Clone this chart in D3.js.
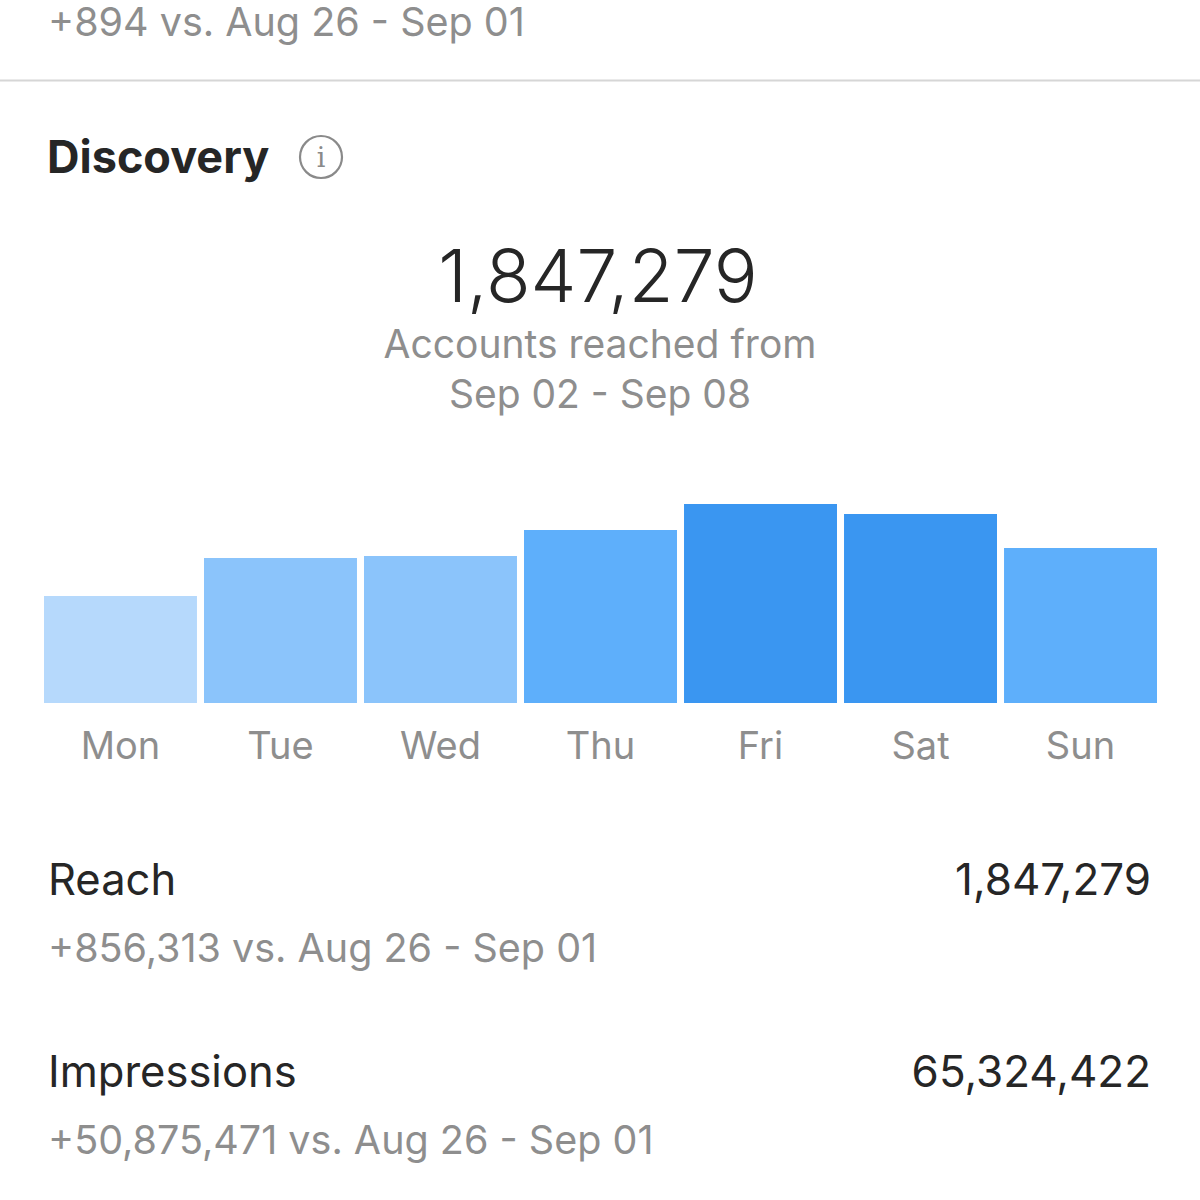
<!DOCTYPE html>
<html>
<head>
<meta charset="utf-8">
<script src="https://cdn.jsdelivr.net/npm/d3@7"></script>
<style>
  html, body { margin: 0; padding: 0; background: #ffffff; }
  svg { display: block; }
  text { font-family: Inter, "Noto Sans", "Liberation Sans", sans-serif; }
</style>
</head>
<body>
<script>
// ---- data ----
const days = ["Mon", "Tue", "Wed", "Thu", "Fri", "Sat", "Sun"];
const dailyReach = [107, 145, 147, 173, 199, 189, 155];   // relative daily reach
const shadeLevel = [0, 1, 1, 2, 3, 3, 2];                  // colour step of each bar
const shades = ["#b6d9fc", "#8bc4fb", "#5eaffb", "#3a96f1"];
const topDelta = "+894 vs. Aug 26 - Sep 01";
const sectionTitle = "Discovery";
const headline = "1,847,279";
const subtitleLines = ["Accounts reached from", "Sep 02 - Sep 08"];
const metricNames = ["Reach", "Impressions"];
const metricValues = ["1,847,279", "65,324,422"];
const metricDeltas = ["+856,313 vs. Aug 26 - Sep 01", "+50,875,471 vs. Aug 26 - Sep 01"];

const W = 1200, H = 1200;
const svg = d3.select("body").append("svg").attr("width", W).attr("height", H);
const gray = "#8e8e8e", dark = "#262626";

// top row remnant
svg.append("text").attr("x", 48).attr("y", 36).attr("font-size", 39.5)
  .attr("fill", gray).text(topDelta);
svg.append("line").attr("x1", 0).attr("x2", W).attr("y1", 80.5).attr("y2", 80.5)
  .attr("stroke", "#d6d6d6").attr("stroke-width", 2);

// section title
svg.append("text").attr("x", 47).attr("y", 173).attr("font-size", 45)
  .attr("font-weight", 700).attr("fill", dark).text(sectionTitle);
const info = svg.append("g").attr("transform", "translate(321,157)");
info.append("circle").attr("r", 21).attr("fill", "none").attr("stroke", "#8a8a8a").attr("stroke-width", 2.2);
info.append("text").attr("y", 10).attr("text-anchor", "middle")
  .style("font-family", "'DejaVu Serif', 'Liberation Serif', serif").style("font-size", "27px")
  .attr("fill", "#8a8a8a").text("i");

// headline
svg.append("text").attr("x", 598).attr("y", 302).attr("text-anchor", "middle")
  .attr("font-size", 73).attr("font-weight", 300).attr("fill", dark).text(headline);
svg.selectAll("text.sub").data(subtitleLines).join("text").attr("class", "sub")
  .attr("x", 600).attr("y", (d, i) => 358 + i * 50).attr("text-anchor", "middle")
  .attr("font-size", 39).attr("fill", gray).text(d => d);

// bars
const x = d3.scaleBand().domain(days).range([44, 1157]).paddingInner(0.044).paddingOuter(0);
const y = d3.scaleLinear().domain([0, d3.max(dailyReach)]).range([703, 504]);

svg.append("g").selectAll("rect").data(days).join("rect")
  .attr("x", d => x(d)).attr("width", x.bandwidth())
  .attr("y", (d, i) => y(dailyReach[i]))
  .attr("height", (d, i) => y(0) - y(dailyReach[i]))
  .attr("fill", (d, i) => shades[shadeLevel[i]]);

const axis = d3.axisBottom(x).tickSize(0).tickPadding(0);
const ag = svg.append("g").attr("transform", "translate(0,703)").call(axis);
ag.select(".domain").remove();
ag.selectAll("text").attr("dy", null).attr("y", 56).attr("font-size", 38)
  .attr("fill", gray).attr("font-family", null);

// metrics
metricNames.forEach((name, i) => {
  const base = 895 + i * 192;
  svg.append("text").attr("x", 48).attr("y", base).attr("font-size", 43.5)
    .attr("fill", dark).text(name);
  svg.append("text").attr("x", 1151).attr("y", base).attr("text-anchor", "end")
    .attr("font-size", 44).attr("fill", dark).text(metricValues[i]);
  svg.append("text").attr("x", 48).attr("y", base + 67).attr("font-size", 39.5)
    .attr("fill", gray).text(metricDeltas[i]);
});
</script>
</body>
</html>
